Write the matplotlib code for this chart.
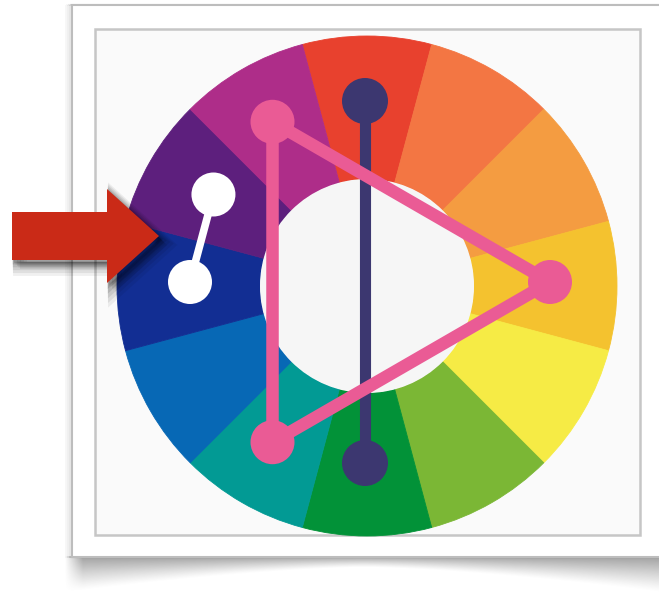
import numpy as np
import matplotlib
matplotlib.use("Agg")
import matplotlib.pyplot as plt
from matplotlib.patches import Circle, Rectangle, Polygon

# Colour wheel: 12 hues, clockwise from the top
wheel_hues = ['red', 'red-orange', 'orange', 'yellow-orange', 'yellow', 'yellow-green',
              'green', 'blue-green', 'blue', 'blue-violet', 'violet', 'red-violet']
wheel_colors = ['#E8412E', '#F37643', '#F49C41', '#F4C22F', '#F6EB45', '#7BB735',
                '#029238', '#029A94', '#0768B5', '#122E93', '#5D1F7D', '#AE2D89']
wheel_share = [1, 1, 1, 1, 1, 1, 1, 1, 1, 1, 1, 1]

# Harmony schemes, given as hue names
triad_hues = ['red-violet', 'yellow-orange', 'blue-green']
complement_hues = ['red', 'green']
analogous_hues = ['violet', 'blue-violet']

W, H = 659, 594
CX, CY = 367, 286          # wheel centre (px)
R_OUT, R_IN = 250, 107
MX, MY = 365, 282          # centre used by the markers


def hue_xy(name, r):
    i = wheel_hues.index(name)
    ang = np.deg2rad(90 - 30 * i)
    return MX + r * np.cos(ang), MY - r * np.sin(ang)


fig = plt.figure(figsize=(W / 100, H / 100), dpi=100)
ax = fig.add_axes([0, 0, 1, 1])
fig.patch.set_facecolor('white')

# --- card with curled shadow underneath ---
shadow_x = np.linspace(0, 1, 300)
shadow_y = np.linspace(0, 1, 40)
gx, gy = np.meshgrid(shadow_x, shadow_y)
depth = 0.3 + 0.7 * (np.abs(gx - 0.5) * 2) ** 1.5
alpha = np.clip(1 - gy / depth, 0, 1) ** 1.2 * 0.6
alpha *= np.clip(gx / 0.03, 0, 1)
rgba = np.zeros(gx.shape + (4,))
rgba[..., :3] = 0.38
rgba[..., 3] = alpha
ax.imshow(rgba, extent=[64, 664, 593, 556], aspect='auto', zorder=0, interpolation='bilinear')

for k, a in enumerate([0.12, 0.09, 0.06, 0.03]):
    ax.add_patch(Rectangle((72 - k * 2, 5), 600, 552, facecolor='none',
                           edgecolor='black', alpha=a, linewidth=1.5, zorder=0.5))
ax.add_patch(Rectangle((72, 5), 600, 552, facecolor='white', edgecolor='#BDBDBD',
                       linewidth=1.5, zorder=1))
ax.add_patch(Rectangle((95, 29), 545, 506, facecolor='#FAFAFA', edgecolor='#C6C6C6',
                       linewidth=1.8, zorder=1.5))

# --- colour wheel ---
wedges, _ = ax.pie(wheel_share, colors=wheel_colors, radius=R_OUT, center=(CX, CY),
                   startangle=-105, counterclock=True, frame=True,
                   wedgeprops=dict(width=R_OUT - R_IN, linewidth=0.6))
for w, c in zip(wedges, wheel_colors):
    w.set_edgecolor(c)
    w.set_zorder(2)
ax.add_patch(Circle((CX, CY), R_IN, facecolor='#F6F6F6', edgecolor='none', zorder=2.5))

# --- complementary pair (navy) ---
navy = '#3C3770'
pts = [hue_xy(h, 181) for h in complement_hues]
ax.plot([p[0] for p in pts], [p[1] for p in pts], color=navy, lw=8, zorder=3,
        solid_capstyle='butt')
for p in pts:
    ax.add_patch(Circle(p, 23, facecolor=navy, edgecolor='none', zorder=3))

# --- triad (pink) ---
pink = '#EA5B95'
pts = [hue_xy(h, 185) for h in triad_hues]
ax.add_patch(Polygon(pts, closed=True, facecolor='none', edgecolor=pink, lw=9,
                     joinstyle='miter', zorder=4))
for p in pts:
    ax.add_patch(Circle(p, 22, facecolor=pink, edgecolor='none', zorder=4))

# --- analogous pair (white) ---
pts = [hue_xy(h, 175) for h in analogous_hues]
ax.plot([p[0] for p in pts], [p[1] for p in pts], color='white', lw=5.5, zorder=5)
for p in pts:
    ax.add_patch(Circle(p, 22, facecolor='white', edgecolor='none', zorder=5))

# --- red arrow with soft shadow ---
arrow = [(12, 212), (107, 212), (107, 189), (159, 236), (107, 283), (107, 260), (12, 260)]
for k, a in enumerate([0.12, 0.10, 0.08, 0.07, 0.06]):
    off = 2 + k * 1.5
    ax.add_patch(Polygon([(x + off, y + off + 1) for x, y in arrow], closed=True,
                         facecolor='black', edgecolor='black', lw=2 + k * 2,
                         alpha=a, zorder=5.5))
ax.add_patch(Polygon(arrow, closed=True, facecolor='#CA2A17', edgecolor='none', zorder=6))

ax.set_xlim(0, W)
ax.set_ylim(H, 0)
ax.set_aspect('auto')
ax.axis('off')

fig.savefig('out.png', dpi=100, facecolor='white')
